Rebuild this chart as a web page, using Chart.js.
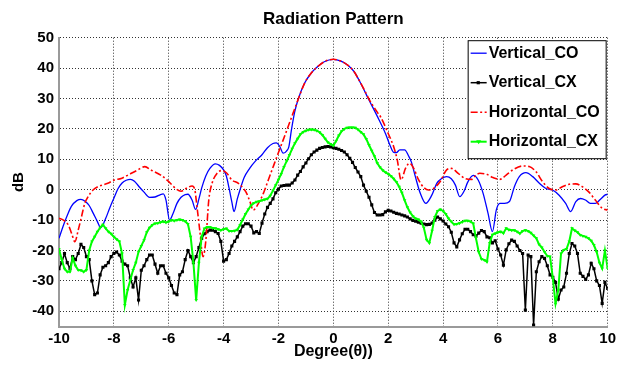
<!DOCTYPE html>
<html><head><meta charset="utf-8">
<script src="https://cdn.jsdelivr.net/npm/chart.js@4.4.1/dist/chart.umd.min.js"></script>
<style>html,body{margin:0;padding:0;background:#fff;}canvas{display:block;}</style>
</head><body>
<canvas id="c" width="619" height="366"></canvas>
<script>
const seriesNames = ['Vertical_CO', 'Vertical_CX', 'Horizontal_CO', 'Horizontal_CX'];
const xTicks = [-10, -8, -6, -4, -2, 0, 2, 4, 6, 8, 10];
const yTicks = [-40, -30, -20, -10, 0, 10, 20, 30, 40, 50];

// sampling grid of the two CX (marker) series, degrees
const degX = [
-10,-9.9,-9.8,-9.7,-9.6,-9.5,-9.4,-9.3,-9.2,-9.1,
-9,-8.9,-8.8,-8.7,-8.6,-8.5,-8.4,-8.3,-8.2,-8.1,
-8,-7.9,-7.8,-7.7,-7.6,-7.5,-7.4,-7.3,-7.2,-7.1,
-7,-6.9,-6.8,-6.7,-6.6,-6.5,-6.4,-6.3,-6.2,-6.1,
-6,-5.9,-5.8,-5.7,-5.6,-5.5,-5.4,-5.3,-5.2,-5.1,
-5,
-4.9,-4.8,-4.7,-4.6,-4.5,-4.4,-4.3,-4.2,-4.1,-4,
-3.9,-3.8,-3.7,-3.6,-3.5,-3.4,-3.3,-3.2,-3.1,-3,
-2.9,-2.8,-2.7,-2.6,-2.5,-2.4,-2.3,-2.2,-2.1,-2,
-1.9,-1.8,-1.7,-1.6,-1.5,-1.4,-1.3,-1.2,-1.1,-1,
-0.9,-0.8,-0.7,-0.6,-0.5,-0.4,-0.3,-0.2,-0.1,0,
0.1,0.2,0.3,0.4,0.5,0.6,0.7,0.8,0.9,1,
1.1,1.2,1.3,1.4,1.5,1.6,1.7,1.8,1.9,2,
2.1,2.2,2.3,2.4,2.5,2.6,2.7,2.8,2.9,3,
3.1,3.2,3.3,3.4,3.5,3.6,3.7,3.8,3.9,4,
4.1,4.2,4.3,4.4,4.5,4.6,4.7,4.8,4.9,5,
5.1,5.2,5.3,5.4,5.5,5.6,5.7,5.8,5.9,6,
6.1,6.2,6.3,6.4,6.5,6.6,6.7,6.8,6.9,7,
7.1,7.2,7.3,7.4,7.5,7.6,7.7,7.8,7.9,8,
8.1,8.2,8.3,8.4,8.5,8.6,8.7,8.8,8.9,9,
9.1,9.2,9.3,9.4,9.5,9.6,9.7,9.8,9.9,10
];

const vertCX = [
-26,-24,-21,-24,-26,-22,-23,-21,-18,-19,
-22,-23,-30,-34.5,-34,-28,-25.5,-25,-24,-22,
-21,-20.5,-21.5,-23.5,-24.5,-25,-29,-32,-29,-36.3,
-26.5,-25,-23,-21.5,-21.5,-24.5,-27.5,-25,-25,-27.5,
-29,-31.5,-34,-34.5,-28,-27,-23,-20,-22,-24,
-22,
-19,-16,-14.5,-13.8,-13.3,-13.3,-13.8,-14.4,-17,-23.5,
-23,-21,-18.5,-17,-15.5,-13.8,-12,-11.2,-11.2,-12,
-14.2,-13.8,-14.4,-11,-8,-5.8,-4.5,-3,-1,0.2,
1.2,1.4,1.5,1.5,2.2,3.2,4.8,6,7.5,8.8,
10.2,11.5,12.4,13,13.6,13.9,14.1,14.2,14.1,13.8,
13.6,13.3,12.9,12.4,11.5,10.3,9,7.3,5.8,4.3,
1.5,-0.5,-2.5,-5,-7.5,-8.3,-8.3,-8.2,-7.3,-6.8,
-7,-7.4,-7.8,-8,-8.3,-8.6,-9,-9.6,-10.1,-10.4,
-10.7,-11,-11.3,-11.5,-11.4,-11,-10,-9,-9.6,-10.3,
-11.3,-12.2,-14,-17.5,-18.8,-16.5,-14.5,-13,-13,-13.8,
-14.8,-15.2,-14.3,-13.4,-13.8,-15.5,-15.8,-17.5,-16.8,-19.5,
-21.5,-24.8,-19.8,-17.8,-16.6,-17,-18.5,-20,-21,-39.6,
-21.5,-22,-44.5,-27,-23.7,-22,-22.6,-25,-28,-28.8,
-30.5,-36,-33,-32,-27.5,-21,-17.7,-18.5,-21,-27.5,
-28.5,-29.5,-28,-24.2,-26,-30,-31.5,-37.4,-30.5,-32.5
];

const horzCX = [
-19.5,-23,-26,-27,-27,-22.5,-25,-26.4,-26.5,-27,
-26.4,-20,-17,-15.5,-13.8,-12.5,-11.5,-12.7,-13.8,-14.5,
-15.5,-16.3,-17,-21,-37.9,-33,-29.7,-26.4,-24,-20.4,
-18.5,-16.6,-14,-12.5,-11.6,-11.1,-11,-10.7,-10.5,-10.8,
-10.5,-10,-10.2,-10,-9.8,-10,-10.4,-11.3,-15.5,-24,
-36.3,
-24,-15.5,-12.8,-12.3,-12.3,-12.6,-12.7,-13,-13.3,-13,
-12.8,-13.6,-13.6,-13.5,-13.2,-11.6,-9.8,-8,-6.5,-5.2,
-4.4,-4,-3.8,-3.5,-3.2,-3,-2,-0.3,1.5,3.3,
5.2,7.5,9.4,11.4,13.5,15.3,16.8,18.2,19,19.4,
19.7,19.8,19.7,19.4,18.9,18,16.8,15.6,15,14.5,
16,17.8,19.2,20,20.4,20.5,20.5,20.4,19.8,19,
18.2,16.7,14.7,12.8,11,8.8,7.4,6.4,5.7,5.2,
4.5,3.6,2.5,1,-1,-3.5,-5.8,-7.5,-8.7,-9.5,
-9.8,-10.5,-12.5,-16.5,-17.5,-13.5,-9,-7,-6.5,-7,
-8,-9.5,-10.5,-11.4,-11.3,-11,-10.6,-10.2,-10.2,-10.5,
-11.1,-16,-20.5,-22.8,-23.1,-23.7,-17.5,-14.8,-14.4,-14,
-13.8,-14.3,-12.7,-13.2,-13.3,-13.3,-13.8,-14.4,-13.6,-13.3,
-13.6,-14.2,-15.1,-16,-18,-19,-20.5,-21.8,-22,-29,
-37.5,-33,-21,-19.8,-19.5,-17,-12.7,-13.4,-14,-14.9,
-15.2,-15.5,-16,-16.8,-18.2,-20.5,-24,-25.9,-20,-25.9
];

const vertCOX = [-10,-9.85,-9.7,-9.55,-9.35,-9.2,-9.05,-8.9,-8.75,-8.6,-8.48,-8.3,-8.15,-8.0,-7.85,-7.7,-7.55,-7.4,-7.25,-7.1,-6.9,-6.7,-6.5,-6.3,-6.2,-6.1,-5.97,-5.85,-5.7,-5.55,-5.4,-5.3,-5.15,-5.02,-4.9,-4.8,-4.65,-4.5,-4.3,-4.15,-4.0,-3.9,-3.8,-3.7,-3.62,-3.5,-3.4,-3.25,-3.05,-2.85,-2.6,-2.4,-2.2,-2.08,-1.95,-1.83,-1.7,-1.62,-1.53,-1.41,-1.29,-1.05,-0.81,-0.57,-0.33,0,0.28,0.52,0.76,0.94,1.12,1.3,1.6,1.9,2.08,2.2,2.3,2.42,2.6,2.75,2.85,2.99,3.17,3.37,3.59,3.77,3.95,4.13,4.3,4.45,4.61,4.78,4.9,5.1,5.28,5.46,5.64,5.8,5.94,6.07,6.24,6.42,6.6,6.78,7.02,7.27,7.51,7.75,7.99,8.23,8.47,8.65,8.84,9.01,9.19,9.37,9.55,9.73,9.9,10];
const vertCOY = [-16,-12,-8.5,-5.5,-3.6,-3.2,-3.8,-5.2,-7.8,-10.5,-12.5,-9.5,-6,-2.8,0.3,2.2,3.1,3.4,2.8,1.2,-0.8,-2.5,-2.4,-1.6,-1.4,-3.4,-10,-8,-4.5,-2.5,-1.6,-1.5,-3.4,-6.5,-3,0.5,4.5,7,8.5,8,6.5,4.5,0.5,-4,-7.2,-3,0,4,7,9.3,11.5,13.8,15.2,15.4,14.2,12,12.8,14.2,19.5,25.5,29.5,35,38.3,40.5,42.1,42.9,42.3,41,38.8,36,32.8,29.5,24.2,18.5,14.3,12.3,12.2,13.1,13.1,11,9,4.3,-1.2,-4.5,-1.8,2.1,3.7,4.3,3.6,1.5,-2.3,-0.2,2.5,4.7,3.2,-1.2,-7.8,-13.8,-6.7,-4.5,-4.5,-3.9,1,4.3,5.6,4.3,2.1,0.4,-0.1,-1.8,-4.5,-7.2,-3.9,-2.9,-3.4,-4.5,-4.5,-3.2,-1.8,-1.5];

const horzCOX = [-10,-9.84,-9.66,-9.54,-9.42,-9.3,-9.18,-9.06,-8.94,-8.76,-8.58,-8.22,-7.98,-7.73,-7.49,-7.13,-6.87,-6.65,-6.29,-5.99,-5.75,-5.55,-5.35,-5.15,-5.05,-4.97,-4.87,-4.75,-4.65,-4.54,-4.42,-4.24,-4.06,-3.88,-3.7,-3.46,-3.28,-3.16,-3.04,-2.92,-2.73,-2.55,-2.37,-2.19,-2.01,-1.83,-1.65,-1.47,-1.29,-1.05,-0.81,-0.57,-0.33,0,0.28,0.52,0.76,0.94,1.12,1.3,1.6,1.72,2.0,2.2,2.33,2.47,2.63,2.78,2.93,3.11,3.29,3.47,3.65,3.89,4.13,4.31,4.55,4.8,5.04,5.2,5.34,5.58,5.82,6.07,6.3,6.54,6.9,7.14,7.39,7.63,7.87,8.11,8.35,8.6,8.84,9.07,9.31,9.55,9.8,10];
const horzCOY = [-9.4,-10,-11.6,-14.4,-17.1,-13.3,-8.9,-4.5,-2.3,-0.1,1,2.1,3.2,3.7,4.8,6.5,7.6,6.5,4.8,2.6,0.4,-0.5,0.5,1.2,0,-5.6,-13.3,-22,-17,-3.4,2.1,5.4,6.3,5.4,3.2,2.1,0.4,-1.2,-3.9,-6.7,-4.5,-1.2,3.2,7.6,12,16.3,20.7,25.1,29.5,35,38.3,40.5,42.1,42.9,42.3,41,38.8,36,33,29.8,25.5,24,18.5,14.1,9.8,3.2,7,8.7,7,3.2,0.8,-0.1,0.4,2.6,6.5,7,5.4,3.7,3.4,4.8,5.4,5.1,4,3.4,4.8,6.5,7.8,7.6,5.9,2.6,0.4,-0.1,1,1.8,1.9,1,-0.7,-3.4,-6.1,-6.7];

const FONT = '"Liberation Sans", Arial, Helvetica, sans-serif';
Chart.defaults.font.family = FONT;
Chart.defaults.color = '#000';

function pairs(xs, ys) { return xs.map((x, i) => ({ x: x, y: ys[i] })); }

const legendBox = {
  id: 'legendBox',
  afterDraw(chart) {
    const ctx = chart.ctx, a = chart.chartArea;
    const w = 138, h = 118, l = a.right - 140, t = a.top + 2.5;
    ctx.save();
    ctx.fillStyle = '#fff';
    ctx.fillRect(l, t, w, h);
    ctx.strokeStyle = '#000';
    ctx.lineWidth = 1;
    ctx.strokeRect(l + 0.5, t + 0.5, w, h);
    ctx.font = 'bold 16px ' + FONT;
    ctx.textBaseline = 'middle';
    ctx.textAlign = 'left';
    chart.data.datasets.forEach((ds, i) => {
      const y = t + 13 + i * 29.5;
      ctx.strokeStyle = ds.borderColor;
      ctx.lineWidth = ds.borderWidth;
      ctx.setLineDash(ds.borderDash || []);
      ctx.beginPath();
      ctx.moveTo(l + 3, y);
      ctx.lineTo(l + 19, y);
      ctx.stroke();
      ctx.setLineDash([]);
      if (ds.pointStyle === 'rect' && ds.pointRadius > 0) {
        ctx.fillStyle = ds.pointBackgroundColor;
        ctx.fillRect(l + 9, y - 1.6, 3.2, 3.2);
      } else if (ds.pointStyle === 'triangle' && ds.pointRadius > 0) {
        ctx.fillStyle = ds.pointBackgroundColor;
        ctx.beginPath();
        ctx.moveTo(l + 8.5, y - 1.5);
        ctx.lineTo(l + 13.5, y - 1.5);
        ctx.lineTo(l + 11, y + 2.5);
        ctx.closePath();
        ctx.fill();
      }
      ctx.fillStyle = '#000';
      ctx.fillText(ds.label, l + 21, y);
    });
    ctx.restore();
  }
};

new Chart(document.getElementById('c'), {
  type: 'line',
  data: {
    datasets: [
      {
        label: seriesNames[0],
        data: pairs(vertCOX, vertCOY),
        borderColor: '#0000ff', backgroundColor: '#0000ff',
        borderWidth: 1.3, pointRadius: 0, pointStyle: false,
        cubicInterpolationMode: 'monotone', order: 4
      },
      {
        label: seriesNames[1],
        data: pairs(degX, vertCX),
        borderColor: '#000000', backgroundColor: '#000000',
        borderWidth: 1.5, pointStyle: 'rect', pointRadius: 2.2,
        pointBackgroundColor: '#000000', pointBorderColor: '#000000', pointBorderWidth: 0,
        tension: 0, order: 3
      },
      {
        label: seriesNames[2],
        data: pairs(horzCOX, horzCOY),
        borderColor: '#ff0000', backgroundColor: '#ff0000',
        borderWidth: 1.6, borderDash: [7, 2.5, 2, 2.5], pointRadius: 0, pointStyle: false,
        cubicInterpolationMode: 'monotone', order: 2
      },
      {
        label: seriesNames[3],
        data: pairs(degX, horzCX),
        borderColor: '#00ff00', backgroundColor: '#00ff00',
        borderWidth: 2, pointStyle: 'triangle', rotation: 180, pointRadius: 2,
        pointBackgroundColor: '#00ff00', pointBorderColor: '#00ff00', pointBorderWidth: 0,
        tension: 0, order: 1
      }
    ]
  },
  options: {
    responsive: false,
    animation: false,
    devicePixelRatio: 1,
    events: [],
    layout: { padding: { left: 0, right: 7, top: 0, bottom: 0 } },
    plugins: {
      legend: { display: false },
      tooltip: { enabled: false },
      title: {
        display: true, text: 'Radiation Pattern', fullSize: false,
        font: { size: 17, weight: 'bold', family: FONT }, color: '#000',
        padding: { top: 9, bottom: 8.3 }
      }
    },
    scales: {
      x: {
        type: 'linear', min: -10, max: 10,
        afterBuildTicks: (s) => { s.ticks = xTicks.map(v => ({ value: v })); },
        afterFit: (s) => { s.height = 39.5; },
        grid: { color: '#333', lineWidth: 1, drawTicks: false },
        border: { display: true, color: '#9a9a9a', width: 2, dash: [1, 2] },
        ticks: { padding: 3, font: { size: 15, weight: 'bold' }, color: '#000', maxRotation: 0 },
        title: { display: true, text: 'Degree(θ))', font: { size: 16, weight: 'bold' }, color: '#000', padding: { top: 0, bottom: 4.5 } }
      },
      y: {
        type: 'linear', min: -45, max: 50,
        afterBuildTicks: (s) => { s.ticks = yTicks.map(v => ({ value: v })); },
        afterFit: (s) => { s.width = 59; },
        grid: { color: '#333', lineWidth: 1, drawTicks: false },
        border: { display: true, color: '#9a9a9a', width: 2, dash: [1, 2] },
        ticks: { padding: 5, font: { size: 15, weight: 'bold' }, color: '#000' },
        title: { display: true, text: 'dB', font: { size: 15, weight: 'bold' }, color: '#000', padding: { top: 10, bottom: 0 } }
      }
    }
  },
  plugins: [legendBox]
});
</script>
</body></html>
